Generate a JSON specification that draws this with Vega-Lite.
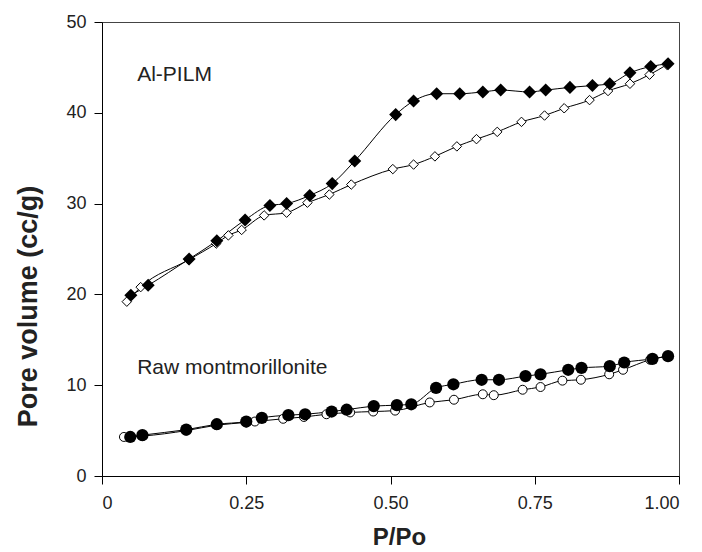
{
  "$schema": "https://vega.github.io/schema/vega-lite/v6.json",
  "autosize": "none",
  "padding": {"left": 102, "top": 22, "right": 23, "bottom": 76},
  "width": 577,
  "height": 454,
  "config": {
    "font": "Liberation Sans",
    "view": {"stroke": "#444", "strokeWidth": 1},
    "axis": {"grid": false, "domainColor": "#000", "tickColor": "#000", "labelColor": "#222", "titleColor": "#222", "labelFont": "Liberation Sans", "titleFont": "Liberation Sans", "labelFontSize": 18, "titleFontWeight": "bold", "tickSize": 8}
  },
  "datasets": {
    "iso": [
      {"sample": "Al-PILM", "branch": "des", "p": 0.050, "v": 19.9},
      {"sample": "Al-PILM", "branch": "des", "p": 0.080, "v": 21.0},
      {"sample": "Al-PILM", "branch": "des", "p": 0.151, "v": 23.9},
      {"sample": "Al-PILM", "branch": "des", "p": 0.199, "v": 25.9},
      {"sample": "Al-PILM", "branch": "des", "p": 0.248, "v": 28.2},
      {"sample": "Al-PILM", "branch": "des", "p": 0.291, "v": 29.8},
      {"sample": "Al-PILM", "branch": "des", "p": 0.320, "v": 30.0},
      {"sample": "Al-PILM", "branch": "des", "p": 0.360, "v": 30.9},
      {"sample": "Al-PILM", "branch": "des", "p": 0.399, "v": 32.2},
      {"sample": "Al-PILM", "branch": "des", "p": 0.438, "v": 34.7},
      {"sample": "Al-PILM", "branch": "des", "p": 0.509, "v": 39.8},
      {"sample": "Al-PILM", "branch": "des", "p": 0.540, "v": 41.3},
      {"sample": "Al-PILM", "branch": "des", "p": 0.580, "v": 42.1},
      {"sample": "Al-PILM", "branch": "des", "p": 0.620, "v": 42.1},
      {"sample": "Al-PILM", "branch": "des", "p": 0.660, "v": 42.3},
      {"sample": "Al-PILM", "branch": "des", "p": 0.691, "v": 42.5},
      {"sample": "Al-PILM", "branch": "des", "p": 0.741, "v": 42.3},
      {"sample": "Al-PILM", "branch": "des", "p": 0.769, "v": 42.5},
      {"sample": "Al-PILM", "branch": "des", "p": 0.811, "v": 42.8},
      {"sample": "Al-PILM", "branch": "des", "p": 0.850, "v": 43.0},
      {"sample": "Al-PILM", "branch": "des", "p": 0.880, "v": 43.2},
      {"sample": "Al-PILM", "branch": "des", "p": 0.915, "v": 44.4},
      {"sample": "Al-PILM", "branch": "des", "p": 0.951, "v": 45.1},
      {"sample": "Al-PILM", "branch": "des", "p": 0.981, "v": 45.4},
      {"sample": "Al-PILM", "branch": "ads", "p": 0.043, "v": 19.2},
      {"sample": "Al-PILM", "branch": "ads", "p": 0.067, "v": 20.8},
      {"sample": "Al-PILM", "branch": "ads", "p": 0.150, "v": 23.8},
      {"sample": "Al-PILM", "branch": "ads", "p": 0.198, "v": 25.6},
      {"sample": "Al-PILM", "branch": "ads", "p": 0.219, "v": 26.5},
      {"sample": "Al-PILM", "branch": "ads", "p": 0.242, "v": 27.1},
      {"sample": "Al-PILM", "branch": "ads", "p": 0.281, "v": 28.7},
      {"sample": "Al-PILM", "branch": "ads", "p": 0.320, "v": 29.0},
      {"sample": "Al-PILM", "branch": "ads", "p": 0.356, "v": 30.1},
      {"sample": "Al-PILM", "branch": "ads", "p": 0.394, "v": 31.0},
      {"sample": "Al-PILM", "branch": "ads", "p": 0.432, "v": 32.1},
      {"sample": "Al-PILM", "branch": "ads", "p": 0.504, "v": 33.8},
      {"sample": "Al-PILM", "branch": "ads", "p": 0.540, "v": 34.3},
      {"sample": "Al-PILM", "branch": "ads", "p": 0.577, "v": 35.2},
      {"sample": "Al-PILM", "branch": "ads", "p": 0.615, "v": 36.3},
      {"sample": "Al-PILM", "branch": "ads", "p": 0.649, "v": 37.1},
      {"sample": "Al-PILM", "branch": "ads", "p": 0.685, "v": 37.9},
      {"sample": "Al-PILM", "branch": "ads", "p": 0.727, "v": 39.0},
      {"sample": "Al-PILM", "branch": "ads", "p": 0.767, "v": 39.7},
      {"sample": "Al-PILM", "branch": "ads", "p": 0.801, "v": 40.5},
      {"sample": "Al-PILM", "branch": "ads", "p": 0.845, "v": 41.4},
      {"sample": "Al-PILM", "branch": "ads", "p": 0.877, "v": 42.4},
      {"sample": "Al-PILM", "branch": "ads", "p": 0.915, "v": 43.2},
      {"sample": "Al-PILM", "branch": "ads", "p": 0.949, "v": 44.2},
      {"sample": "Al-PILM", "branch": "ads", "p": 0.979, "v": 45.3},
      {"sample": "Raw", "branch": "des", "p": 0.049, "v": 4.3},
      {"sample": "Raw", "branch": "des", "p": 0.070, "v": 4.5},
      {"sample": "Raw", "branch": "des", "p": 0.146, "v": 5.1},
      {"sample": "Raw", "branch": "des", "p": 0.199, "v": 5.7},
      {"sample": "Raw", "branch": "des", "p": 0.250, "v": 6.0},
      {"sample": "Raw", "branch": "des", "p": 0.277, "v": 6.4},
      {"sample": "Raw", "branch": "des", "p": 0.323, "v": 6.7},
      {"sample": "Raw", "branch": "des", "p": 0.352, "v": 6.8},
      {"sample": "Raw", "branch": "des", "p": 0.398, "v": 7.1},
      {"sample": "Raw", "branch": "des", "p": 0.424, "v": 7.3},
      {"sample": "Raw", "branch": "des", "p": 0.471, "v": 7.7},
      {"sample": "Raw", "branch": "des", "p": 0.511, "v": 7.8},
      {"sample": "Raw", "branch": "des", "p": 0.536, "v": 7.9},
      {"sample": "Raw", "branch": "des", "p": 0.579, "v": 9.7},
      {"sample": "Raw", "branch": "des", "p": 0.609, "v": 10.1},
      {"sample": "Raw", "branch": "des", "p": 0.658, "v": 10.6},
      {"sample": "Raw", "branch": "des", "p": 0.688, "v": 10.6},
      {"sample": "Raw", "branch": "des", "p": 0.734, "v": 11.0},
      {"sample": "Raw", "branch": "des", "p": 0.760, "v": 11.2},
      {"sample": "Raw", "branch": "des", "p": 0.808, "v": 11.7},
      {"sample": "Raw", "branch": "des", "p": 0.831, "v": 11.9},
      {"sample": "Raw", "branch": "des", "p": 0.880, "v": 12.1},
      {"sample": "Raw", "branch": "des", "p": 0.905, "v": 12.5},
      {"sample": "Raw", "branch": "des", "p": 0.954, "v": 12.9},
      {"sample": "Raw", "branch": "des", "p": 0.981, "v": 13.2},
      {"sample": "Raw", "branch": "ads", "p": 0.038, "v": 4.3},
      {"sample": "Raw", "branch": "ads", "p": 0.070, "v": 4.4},
      {"sample": "Raw", "branch": "ads", "p": 0.146, "v": 5.0},
      {"sample": "Raw", "branch": "ads", "p": 0.199, "v": 5.6},
      {"sample": "Raw", "branch": "ads", "p": 0.250, "v": 5.9},
      {"sample": "Raw", "branch": "ads", "p": 0.265, "v": 6.0},
      {"sample": "Raw", "branch": "ads", "p": 0.314, "v": 6.3},
      {"sample": "Raw", "branch": "ads", "p": 0.350, "v": 6.5},
      {"sample": "Raw", "branch": "ads", "p": 0.389, "v": 6.8},
      {"sample": "Raw", "branch": "ads", "p": 0.430, "v": 7.0},
      {"sample": "Raw", "branch": "ads", "p": 0.470, "v": 7.1},
      {"sample": "Raw", "branch": "ads", "p": 0.508, "v": 7.2},
      {"sample": "Raw", "branch": "ads", "p": 0.568, "v": 8.1},
      {"sample": "Raw", "branch": "ads", "p": 0.610, "v": 8.4},
      {"sample": "Raw", "branch": "ads", "p": 0.660, "v": 9.0},
      {"sample": "Raw", "branch": "ads", "p": 0.679, "v": 8.9},
      {"sample": "Raw", "branch": "ads", "p": 0.729, "v": 9.5},
      {"sample": "Raw", "branch": "ads", "p": 0.760, "v": 9.8},
      {"sample": "Raw", "branch": "ads", "p": 0.798, "v": 10.5},
      {"sample": "Raw", "branch": "ads", "p": 0.830, "v": 10.6},
      {"sample": "Raw", "branch": "ads", "p": 0.879, "v": 11.2},
      {"sample": "Raw", "branch": "ads", "p": 0.903, "v": 11.7},
      {"sample": "Raw", "branch": "ads", "p": 0.950, "v": 12.8},
      {"sample": "Raw", "branch": "ads", "p": 0.980, "v": 13.2}
    ],
    "labels": [
      {"text": "Al-PILM", "p": 0.061, "v": 44.2},
      {"text": "Raw montmorillonite", "p": 0.061, "v": 11.9}
    ]
  },
  "layer": [
    {
      "data": {"name": "iso"},
      "mark": {"type": "line", "color": "#000", "strokeWidth": 1, "interpolate": "monotone"},
      "encoding": {
        "x": {"field": "p", "type": "quantitative", "scale": {"domain": [0, 1], "nice": false}, "axis": {"title": "P/Po", "values": [0, 0.25, 0.5, 0.75, 1], "labelExpr": "datum.value == 0 ? '0' : format(datum.value, '.2f')", "labelPadding": 10, "titleFontSize": 24, "titleX": 297, "titleY": 61, "titleBaseline": "middle", "titleAlign": "center"}},
        "y": {"field": "v", "type": "quantitative", "scale": {"domain": [0, 50], "nice": false}, "axis": {"title": "Pore volume (cc/g)", "values": [0, 10, 20, 30, 40, 50], "labelPadding": 8, "titleFontSize": 27, "titleX": -74, "titleY": 284, "titleBaseline": "middle", "titleAlign": "center", "titleAngle": -90}},
        "detail": [{"field": "sample"}, {"field": "branch"}],
        "order": {"field": "p", "type": "quantitative"}
      }
    },
    {
      "data": {"name": "iso"},
      "transform": [{"filter": "datum.sample == 'Al-PILM' && datum.branch == 'ads'"}],
      "mark": {"type": "point", "shape": "diamond", "filled": true, "fill": "#fff", "stroke": "#000", "strokeWidth": 1, "size": 90, "opacity": 1},
      "encoding": {"x": {"field": "p", "type": "quantitative"}, "y": {"field": "v", "type": "quantitative"}}
    },
    {
      "data": {"name": "iso"},
      "transform": [{"filter": "datum.sample == 'Raw' && datum.branch == 'ads'"}],
      "mark": {"type": "point", "shape": "circle", "filled": true, "fill": "#fff", "stroke": "#000", "strokeWidth": 1, "size": 80, "opacity": 1},
      "encoding": {"x": {"field": "p", "type": "quantitative"}, "y": {"field": "v", "type": "quantitative"}}
    },
    {
      "data": {"name": "iso"},
      "transform": [{"filter": "datum.sample == 'Al-PILM' && datum.branch == 'des'"}],
      "mark": {"type": "point", "shape": "diamond", "filled": true, "fill": "#000", "size": 170, "opacity": 1},
      "encoding": {"x": {"field": "p", "type": "quantitative"}, "y": {"field": "v", "type": "quantitative"}}
    },
    {
      "data": {"name": "iso"},
      "transform": [{"filter": "datum.sample == 'Raw' && datum.branch == 'des'"}],
      "mark": {"type": "point", "shape": "circle", "filled": true, "fill": "#000", "size": 150, "opacity": 1},
      "encoding": {"x": {"field": "p", "type": "quantitative"}, "y": {"field": "v", "type": "quantitative"}}
    },
    {
      "data": {"name": "labels"},
      "mark": {"type": "text", "align": "left", "baseline": "middle", "fontSize": 21, "color": "#222", "font": "Liberation Sans"},
      "encoding": {"x": {"field": "p", "type": "quantitative"}, "y": {"field": "v", "type": "quantitative"}, "text": {"field": "text"}}
    }
  ]
}
